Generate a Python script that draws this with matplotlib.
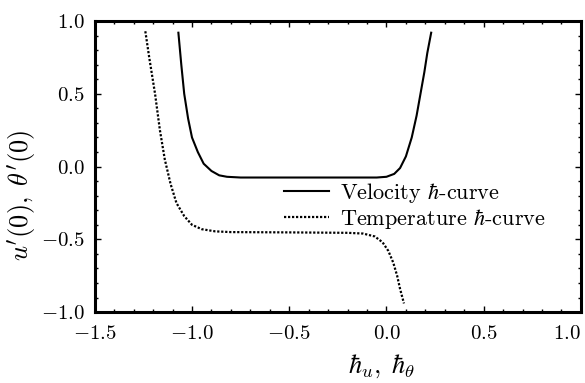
import matplotlib
matplotlib.use('Agg')
from matplotlib import pyplot as plt
from matplotlib.ticker import MultipleLocator, FormatStrFormatter

plt.rcParams['font.family'] = 'serif'
plt.rcParams['font.serif'] = ['cmr10', 'DejaVu Serif']
plt.rcParams['mathtext.fontset'] = 'cm'
plt.rcParams['axes.formatter.use_mathtext'] = True

# velocity h-curve
vel_h = [-1.07, -1.055, -1.04, -1.02, -1.00, -0.97, -0.94, -0.90, -0.86, -0.82,
         -0.75, -0.40, -0.05, 0.00, 0.04, 0.07, 0.10, 0.13, 0.155, 0.175,
         0.195, 0.21, 0.23]
vel_u = [0.92, 0.70, 0.50, 0.33, 0.20, 0.10, 0.02, -0.03, -0.06, -0.07,
         -0.075, -0.075, -0.075, -0.07, -0.05, -0.01, 0.07, 0.20, 0.35, 0.50,
         0.65, 0.78, 0.92]

# temperature h-curve
tmp_h = [-1.24, -1.22, -1.19, -1.165, -1.14, -1.11, -1.08, -1.04, -1.00, -0.95,
         -0.88, -0.80, -0.50, -0.20, -0.12, -0.06, -0.02, 0.01, 0.035, 0.055,
         0.07, 0.09]
tmp_t = [0.93, 0.75, 0.50, 0.25, 0.05, -0.12, -0.25, -0.34, -0.40, -0.43,
         -0.445, -0.45, -0.452, -0.455, -0.46, -0.48, -0.52, -0.58, -0.66, -0.75,
         -0.84, -0.94]

fig = plt.figure(figsize=(5.85, 3.83), dpi=100)
ax = fig.add_axes([0.162, 0.185, 0.831, 0.760])

ax.plot(vel_h, vel_u, color='black', lw=1.5, label=r'Velocity $\hbar$-curve')
ax.plot(tmp_h, tmp_t, color='black', lw=1.6, linestyle=(0, (1, 0.8)),
        label=r'Temperature $\hbar$-curve')

ax.set_xlim(-1.5, 1.0)
ax.set_ylim(-1.0, 1.0)
ax.xaxis.set_major_locator(MultipleLocator(0.5))
ax.xaxis.set_minor_locator(MultipleLocator(0.1))
ax.yaxis.set_major_locator(MultipleLocator(0.5))
ax.yaxis.set_minor_locator(MultipleLocator(0.1))
ax.xaxis.set_major_formatter(FormatStrFormatter(r'$%.1f$'))
ax.yaxis.set_major_formatter(FormatStrFormatter(r'$%.1f$'))

ax.tick_params(which='both', direction='in', top=True, right=True,
               labelsize=15, width=1.0)
ax.tick_params(which='major', length=4)
ax.tick_params(axis='x', which='major', pad=9)
ax.tick_params(axis='y', which='major', pad=7)
ax.tick_params(which='minor', length=2.5)
for s in ax.spines.values():
    s.set_linewidth(2.2)

ax.set_xlabel(r'$\hbar_u,\;\hbar_\theta$', fontsize=19, va='center')
ax.set_ylabel(r"$u'(0),\;\theta'(0)$", fontsize=19, va='center')
ax.xaxis.set_label_coords(0.59, -0.185)
ax.yaxis.set_label_coords(-0.15, 0.40)

ax.legend(loc='center right', bbox_to_anchor=(0.955, 0.365), frameon=False,
          fontsize=16, handlelength=2.0, handletextpad=0.5, labelspacing=0.1,
          borderpad=0.1)

# the "1.0" label sits just left of the right spine in the reference
fig.canvas.draw()
for tick in ax.xaxis.get_major_ticks():
    if abs(tick.get_loc() - 1.0) < 1e-9:
        tick.label1.set_horizontalalignment('right')
        tick.label1.set_x(1.02)

fig.savefig('out.png', dpi=100)
